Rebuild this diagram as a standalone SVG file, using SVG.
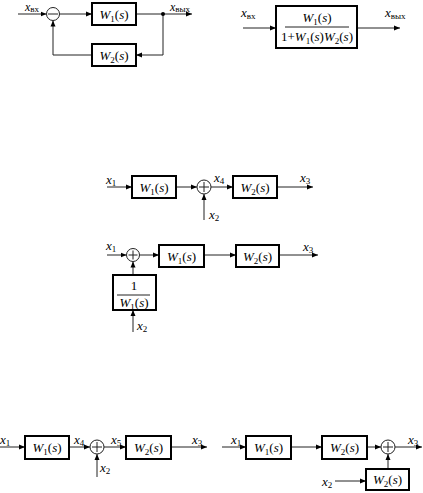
<svg xmlns="http://www.w3.org/2000/svg" width="423" height="493" viewBox="0 0 423 493">
<style>
.box{fill:#fff;stroke:#000;stroke-width:2}
.ln{fill:none;stroke:#222;stroke-width:1}
.sum{fill:#fff;stroke:#222;stroke-width:1}
text{font-family:"Liberation Serif","Times New Roman",serif;font-size:13px;fill:#000}
.v{font-style:italic}
.s{font-style:normal;font-size:9px}
.n{font-style:normal}
.c{text-anchor:middle}
.t{font-size:12px}
</style>
<defs>
<marker id="a" markerUnits="userSpaceOnUse" markerWidth="7" markerHeight="6" refX="6" refY="3" orient="auto">
<path d="M0,0.5 L6,3 L0,5.5 Z" fill="#000"/>
</marker>
</defs>

<!-- Diagram 1: feedback loop -->
<g id="d1-conn" class="conn">
<path class="ln" d="M18,14 H46.5" marker-end="url(#a)"/>
<path class="ln" d="M59.5,14 H92" marker-end="url(#a)"/>
<path class="ln" d="M136,14 H192" marker-end="url(#a)"/>
<path class="ln" d="M163,14 V55 H136" marker-end="url(#a)"/>
<path class="ln" d="M92,55 H53 V20.5" marker-end="url(#a)"/>
<circle cx="163" cy="14" r="2" fill="#000"/>
</g>
<g id="d1-sum"><circle class="sum" cx="53" cy="14" r="6.5"/><path class="ln" d="M48,14 H58"/></g>
<g id="d1-w1"><rect class="box" x="92" y="3" width="44" height="22"/>
<text class="v c" x="114" y="19">W<tspan class="s" dy="3">1</tspan><tspan class="n" dy="-3">(</tspan>s<tspan class="n">)</tspan></text></g>
<g id="d1-w2"><rect class="box" x="92" y="44" width="44" height="22"/>
<text class="v c" x="114" y="60">W<tspan class="s" dy="3">2</tspan><tspan class="n" dy="-3">(</tspan>s<tspan class="n">)</tspan></text></g>
<g id="d1-labels">
<text class="v t" x="25" y="11">x<tspan class="s" dy="1">вх</tspan></text>
<text class="v t" x="170" y="11">x<tspan class="s" dy="1">вых</tspan></text>
</g>

<!-- Diagram 2: equivalent -->
<g id="d2-conn">
<path class="ln" d="M243,28 H276" marker-end="url(#a)"/>
<path class="ln" d="M357,28 H400" marker-end="url(#a)"/>
</g>
<g id="d2-box"><rect class="box" x="276" y="6" width="81" height="42"/>
<text class="v c" x="317" y="22">W<tspan class="s" dy="3">1</tspan><tspan class="n" dy="-3">(</tspan>s<tspan class="n">)</tspan></text>
<path class="ln" d="M285,27 H349" stroke="#000"/>
<text class="v c" x="317" y="41"><tspan class="n">1+</tspan>W<tspan class="s" dy="3">1</tspan><tspan class="n" dy="-3">(</tspan>s<tspan class="n">)</tspan>W<tspan class="s" dy="3">2</tspan><tspan class="n" dy="-3">(</tspan>s<tspan class="n">)</tspan></text></g>
<g id="d2-labels">
<text class="v" x="241" y="17">x<tspan class="s" dy="2">вх</tspan></text>
<text class="v" x="385" y="17">x<tspan class="s" dy="2">вых</tspan></text>
</g>

<!-- Diagram 3 -->
<g id="d3-conn">
<path class="ln" d="M107,187 H132" marker-end="url(#a)"/>
<path class="ln" d="M176,187 H197" marker-end="url(#a)"/>
<path class="ln" d="M211,187 H233" marker-end="url(#a)"/>
<path class="ln" d="M277,187 H313" marker-end="url(#a)"/>
<path class="ln" d="M204,220 V194" marker-end="url(#a)"/>
</g>
<g id="d3-w1"><rect class="box" x="132" y="176" width="44" height="22"/>
<text class="v c" x="154" y="192">W<tspan class="s" dy="3">1</tspan><tspan class="n" dy="-3">(</tspan>s<tspan class="n">)</tspan></text></g>
<g id="d3-sum"><circle class="sum" cx="204" cy="187" r="7"/><path class="ln" d="M199,187 H209 M204,182 V192"/></g>
<g id="d3-w2"><rect class="box" x="233" y="176" width="44" height="22"/>
<text class="v c" x="255" y="192">W<tspan class="s" dy="3">2</tspan><tspan class="n" dy="-3">(</tspan>s<tspan class="n">)</tspan></text></g>
<g id="d3-labels">
<text class="v" x="106" y="184">x<tspan class="s" dy="2">1</tspan></text>
<text class="v" x="214" y="182">x<tspan class="s" dy="2">4</tspan></text>
<text class="v" x="300" y="182">x<tspan class="s" dy="2">3</tspan></text>
<text class="v" x="209" y="219">x<tspan class="s" dy="2">2</tspan></text>
</g>

<!-- Diagram 4 -->
<g id="d4-conn">
<path class="ln" d="M107,255 H126.5" marker-end="url(#a)"/>
<path class="ln" d="M139.5,255 H159" marker-end="url(#a)"/>
<path class="ln" d="M204,255 H236" marker-end="url(#a)"/>
<path class="ln" d="M279,255 H318" marker-end="url(#a)"/>
<path class="ln" d="M133,275 V261.5" marker-end="url(#a)"/>
<path class="ln" d="M133,332 V310" marker-end="url(#a)"/>
</g>
<g id="d4-sum"><circle class="sum" cx="133" cy="255" r="6.5"/><path class="ln" d="M128.5,255 H137.5 M133,250.5 V259.5"/></g>
<g id="d4-w1"><rect class="box" x="159" y="245" width="45" height="22"/>
<text class="v c" x="181.5" y="261">W<tspan class="s" dy="3">1</tspan><tspan class="n" dy="-3">(</tspan>s<tspan class="n">)</tspan></text></g>
<g id="d4-w2"><rect class="box" x="236" y="245" width="43" height="22"/>
<text class="v c" x="257.5" y="261">W<tspan class="s" dy="3">2</tspan><tspan class="n" dy="-3">(</tspan>s<tspan class="n">)</tspan></text></g>
<g id="d4-inv"><rect class="box" x="113" y="275" width="43" height="35"/>
<text class="n c" x="134" y="290">1</text>
<path class="ln" d="M117,295 H150" stroke="#000"/>
<text class="v c" x="134" y="307">W<tspan class="s" dy="3">1</tspan><tspan class="n" dy="-3">(</tspan>s<tspan class="n">)</tspan></text></g>
<g id="d4-labels">
<text class="v" x="106" y="250">x<tspan class="s" dy="2">1</tspan></text>
<text class="v" x="303" y="251">x<tspan class="s" dy="2">3</tspan></text>
<text class="v" x="137" y="330">x<tspan class="s" dy="2">2</tspan></text>
</g>

<!-- Diagram 5 -->
<g id="d5-conn">
<path class="ln" d="M0,447 H25" marker-end="url(#a)"/>
<path class="ln" d="M69,447 H90" marker-end="url(#a)"/>
<path class="ln" d="M104,447 H126" marker-end="url(#a)"/>
<path class="ln" d="M171,447 H207" marker-end="url(#a)"/>
<path class="ln" d="M97,477 V454" marker-end="url(#a)"/>
</g>
<g id="d5-w1"><rect class="box" x="25" y="436" width="44" height="23"/>
<text class="v c" x="47" y="452">W<tspan class="s" dy="3">1</tspan><tspan class="n" dy="-3">(</tspan>s<tspan class="n">)</tspan></text></g>
<g id="d5-sum"><circle class="sum" cx="97" cy="447" r="7"/><path class="ln" d="M92,447 H102 M97,442 V452"/></g>
<g id="d5-w2"><rect class="box" x="126" y="436" width="45" height="23"/>
<text class="v c" x="148.5" y="452">W<tspan class="s" dy="3">2</tspan><tspan class="n" dy="-3">(</tspan>s<tspan class="n">)</tspan></text></g>
<g id="d5-labels">
<text class="v" x="0" y="444">x<tspan class="s" dy="2">1</tspan></text>
<text class="v" x="74" y="444">x<tspan class="s" dy="2">4</tspan></text>
<text class="v" x="111" y="444">x<tspan class="s" dy="2">5</tspan></text>
<text class="v" x="192" y="444">x<tspan class="s" dy="2">3</tspan></text>
<text class="v" x="100" y="472">x<tspan class="s" dy="2">2</tspan></text>
</g>

<!-- Diagram 6 -->
<g id="d6-conn">
<path class="ln" d="M222,447 H246" marker-end="url(#a)"/>
<path class="ln" d="M291,447 H322" marker-end="url(#a)"/>
<path class="ln" d="M367,447 H381" marker-end="url(#a)"/>
<path class="ln" d="M395,447 H422" marker-end="url(#a)"/>
<path class="ln" d="M388,469 V454" marker-end="url(#a)"/>
<path class="ln" d="M335,481 H366" marker-end="url(#a)"/>
</g>
<g id="d6-w1"><rect class="box" x="246" y="436" width="45" height="23"/>
<text class="v c" x="268.5" y="452">W<tspan class="s" dy="3">1</tspan><tspan class="n" dy="-3">(</tspan>s<tspan class="n">)</tspan></text></g>
<g id="d6-w2"><rect class="box" x="322" y="436" width="45" height="23"/>
<text class="v c" x="344.5" y="452">W<tspan class="s" dy="3">2</tspan><tspan class="n" dy="-3">(</tspan>s<tspan class="n">)</tspan></text></g>
<g id="d6-sum"><circle class="sum" cx="388" cy="447" r="7"/><path class="ln" d="M383,447 H393 M388,442 V452"/></g>
<g id="d6-w2b"><rect class="box" x="366" y="469" width="43" height="21"/>
<text class="v c" x="387.5" y="484">W<tspan class="s" dy="3">2</tspan><tspan class="n" dy="-3">(</tspan>s<tspan class="n">)</tspan></text></g>
<g id="d6-labels">
<text class="v" x="231" y="444">x<tspan class="s" dy="2">1</tspan></text>
<text class="v" x="408" y="444">x<tspan class="s" dy="2">3</tspan></text>
<text class="v" x="322" y="486">x<tspan class="s" dy="2">2</tspan></text>
</g>
</svg>
